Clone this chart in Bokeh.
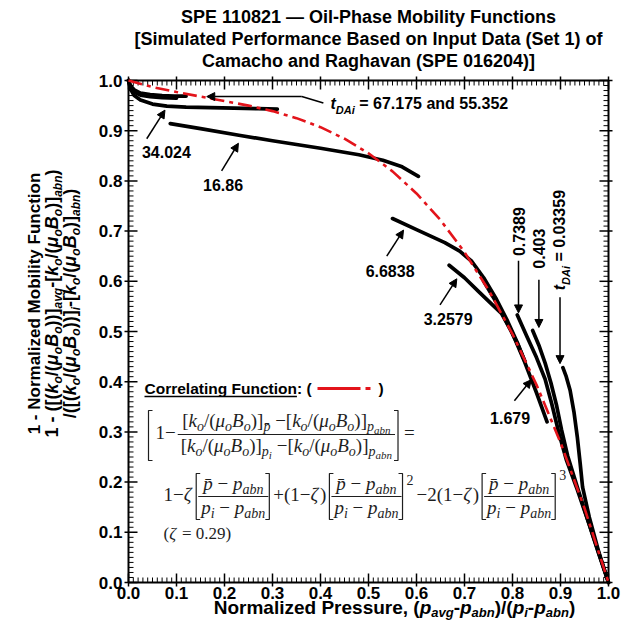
import math
from bokeh.plotting import figure
from bokeh.models import Label, Arrow, NormalHead, Range1d
from bokeh.core.properties import value
from bokeh.embed import file_html
from bokeh.resources import INLINE

# ---------------- data ----------------
tick_values = [0.0, 0.1, 0.2, 0.3, 0.4, 0.5, 0.6, 0.7, 0.8, 0.9, 1.0]
tick_labels = ["0.0", "0.1", "0.2", "0.3", "0.4", "0.5", "0.6", "0.7", "0.8", "0.9", "1.0"]

# correlating function, zeta = 0.29
corr_x = [0.0, 0.05, 0.10, 0.15, 0.20, 0.25, 0.30, 0.35, 0.40, 0.45, 0.50,
          0.55, 0.60, 0.65, 0.70, 0.75, 0.80, 0.85, 0.90, 0.95, 1.00]
corr_y = [1.000, 0.987, 0.977, 0.968, 0.959, 0.950, 0.939, 0.925, 0.907, 0.884, 0.855,
          0.819, 0.775, 0.722, 0.658, 0.583, 0.495, 0.394, 0.279, 0.148, 0.000]

# simulated oil-phase mobility curves, one per t_DAi
t67_x = [0.0, 0.004, 0.012, 0.025, 0.045, 0.07, 0.095, 0.12]
t67_y = [1.0, 0.990, 0.981, 0.975, 0.972, 0.970, 0.969, 0.969]
t55_x = [0.0, 0.004, 0.012, 0.025, 0.045, 0.07, 0.10]
t55_y = [1.0, 0.987, 0.977, 0.971, 0.968, 0.966, 0.965]
t34_x = [0.0, 0.004, 0.012, 0.025, 0.05, 0.08, 0.12, 0.17, 0.22, 0.27, 0.31]
t34_y = [1.0, 0.983, 0.970, 0.961, 0.953, 0.949, 0.947, 0.946, 0.945, 0.944, 0.943]
t16_x = [0.087, 0.15, 0.23, 0.30, 0.40, 0.48, 0.53, 0.57, 0.604]
t16_y = [0.914, 0.904, 0.891, 0.880, 0.865, 0.852, 0.841, 0.828, 0.809]
t6_x = [0.55, 0.60, 0.659, 0.69, 0.715, 0.74, 0.765, 0.79, 0.81, 0.826]
t6_y = [0.725, 0.703, 0.677, 0.660, 0.640, 0.607, 0.567, 0.520, 0.478, 0.440]
t3_x = [0.668, 0.70, 0.729, 0.755, 0.777, 0.795, 0.812, 0.826]
t3_y = [0.632, 0.607, 0.580, 0.556, 0.536, 0.505, 0.472, 0.440]
t1679_x = [0.74, 0.77, 0.80, 0.825, 0.85, 0.872]
t1679_y = [0.600, 0.552, 0.496, 0.440, 0.378, 0.320]
t0739_x = [0.81, 0.83, 0.85, 0.868, 0.882, 0.896, 0.912, 0.935, 0.96, 0.98, 1.0]
t0739_y = [0.533, 0.490, 0.448, 0.405, 0.355, 0.300, 0.245, 0.185, 0.115, 0.057, 0.0]
t0403_x = [0.842, 0.856, 0.868, 0.88, 0.892, 0.902, 0.915, 0.935, 0.96, 0.98, 1.0]
t0403_y = [0.502, 0.470, 0.437, 0.398, 0.352, 0.305, 0.252, 0.190, 0.115, 0.057, 0.0]
t0034_x = [0.905, 0.912, 0.92, 0.928, 0.935, 0.941, 0.946, 0.96, 0.98, 1.0]
t0034_y = [0.428, 0.410, 0.383, 0.340, 0.290, 0.237, 0.190, 0.130, 0.060, 0.0]

title_lines = ["SPE 110821 \u2014 Oil-Phase Mobility Functions",
               "[Simulated Performance Based on Input Data (Set 1) of",
               "Camacho and Raghavan (SPE 016204)]"]

# ---------------- canvas geometry ----------------
# the figure frame fills the whole canvas; the unit square is the plotting box
W, H = 632, 623
L, R, T, B = 128, 24, 80, 41
FW, FH = W - L - R, H - T - B


def dx(px):
    return (px - L) / FW


def dy(py):
    return (H - B - py) / FH


p = figure(width=W, height=H,
           x_range=Range1d(dx(0), dx(W)), y_range=Range1d(dy(H), dy(0)),
           output_backend="svg", toolbar_location=None, title=None,
           x_axis_type=None, y_axis_type=None,
           min_border_left=0, min_border_right=0, min_border_top=0, min_border_bottom=0)
p.grid.visible = False
p.outline_line_color = None
p.background_fill_color = "white"
p.border_fill_color = "white"

# ---------------- box, ticks and tick labels ----------------
minor = [round(i * 0.01, 2) for i in range(101) if i % 10]
maj_in, maj_out, min_in = 9, 4, 5

p.segment(x0=tick_values, x1=tick_values, y0=[-maj_out / FH] * 11, y1=[maj_in / FH] * 11,
          line_color="black", line_width=1.5)
p.segment(x0=tick_values, x1=tick_values, y0=[1 - maj_in / FH] * 11, y1=[1 + maj_out / FH] * 11,
          line_color="black", line_width=1.5)
p.segment(x0=[-maj_out / FW] * 11, x1=[maj_in / FW] * 11, y0=tick_values, y1=tick_values,
          line_color="black", line_width=1.5)
p.segment(x0=[1 - maj_in / FW] * 11, x1=[1 + maj_out / FW] * 11, y0=tick_values, y1=tick_values,
          line_color="black", line_width=1.5)
n = len(minor)
p.segment(x0=minor, x1=minor, y0=[0] * n, y1=[min_in / FH] * n, line_color="black", line_width=1)
p.segment(x0=minor, x1=minor, y0=[1 - min_in / FH] * n, y1=[1] * n, line_color="black", line_width=1)
p.segment(x0=[0] * n, x1=[min_in / FW] * n, y0=minor, y1=minor, line_color="black", line_width=1)
p.segment(x0=[1 - min_in / FW] * n, x1=[1] * n, y0=minor, y1=minor, line_color="black", line_width=1)
p.line([0, 1, 1, 0, 0], [0, 0, 1, 1, 0], line_color="black", line_width=2)

p.text(x=tick_values, y=[dy(592)] * 11, text=tick_labels, text_align="center",
       text_baseline="middle", text_font=value("Liberation Sans"), text_font_style="bold",
       text_font_size="17px", text_color="black")
p.text(x=[dx(122)] * 11, y=tick_values, text=tick_labels, text_align="right",
       text_baseline="middle", text_font=value("Liberation Sans"), text_font_style="bold",
       text_font_size="17px", text_color="black")

# ---------------- curves ----------------
for xs, ys in [(t67_x, t67_y), (t55_x, t55_y), (t34_x, t34_y), (t16_x, t16_y),
               (t6_x, t6_y), (t3_x, t3_y), (t1679_x, t1679_y), (t0739_x, t0739_y),
               (t0403_x, t0403_y), (t0034_x, t0034_y)]:
    p.line(xs, ys, line_color="black", line_width=3.7, line_cap="round", line_join="round")

RED = "#e3141b"
p.line(corr_x, corr_y, line_color=RED, line_width=2.6, line_dash="14 5 4 5")

# ---------------- rich text helpers ----------------
FAM = {"b": ("Liberation Sans", "bold"), "bi": ("Liberation Sans", "bold italic"),
       "r": ("Liberation Serif", "normal"), "i": ("Liberation Serif", "italic")}


def _tab(default, groups):
    t = {"_default": default, "\u0304": 0}
    for chars, w in groups:
        for c in chars:
            t[c] = w
    return t


SANS = _tab(556, [(" ,./ijlI", 278), ("()-[]:;!ft", 333), ("r", 389), ("z", 500),
                  ("+=", 584), ("bdghnopqu", 611), ("FLTZ\u03bc", 611), ("EPSVXY", 667),
                  ("ABCDHKNRU", 722), ("GOQw", 778), ("M", 833), ("m", 889), ("W", 944),
                  ("\u2014", 1000)])
SERIF_R = _tab(500, [(" .", 250), ("/", 278), ("()[]-", 333), ("\u03b6", 444), ("+=\u2212", 564)])
SERIF_I = _tab(500, [("i", 278), ("/", 278), ("()", 333), ("[]", 389), ("k", 444), ("B", 611)])
TABLES = {"b": SANS, "bi": SANS, "r": SERIF_R, "i": SERIF_I}
MID = 0.35  # distance from baseline to the em-box middle, in em


def text_width(s, kind, size):
    t = TABLES[kind]
    return sum(t.get(c, t["_default"]) for c in s) * size / 1000.0


def run(pieces, x, y, align="left", vertical=False, color="black"):
    """Lay out styled text runs from a pixel baseline anchor."""
    widths = [text_width(s, k, z) for s, k, z, sh in pieces]
    total = sum(widths)
    pos = -{"left": 0.0, "center": total / 2, "right": total}[align]
    for (s, k, z, sh), w in zip(pieces, widths):
        lead = len(s) - len(s.lstrip(" "))
        lead_w = text_width(" " * lead, k, z)
        txt = s.strip(" ")
        if txt:
            if vertical:
                px, py = x + sh - MID * z, y - (pos + lead_w)
            else:
                px, py = x + pos + lead_w, y + sh - MID * z
            fam, sty = FAM[k]
            p.add_layout(Label(x=dx(px), y=dy(py), text=txt, text_font=fam,
                               text_font_style=sty, text_font_size=f"{z}px",
                               text_color=color, text_align="left",
                               text_baseline="middle",
                               angle=math.pi / 2 if vertical else 0.0))
        pos += w
    return total


INK = "#1e1e1e"
strokes = []


def frac(num, den, x, bar_y, num_drop=7, den_drop=18, pad=3):
    wn = sum(text_width(s, k, z) for s, k, z, sh in num)
    wd = sum(text_width(s, k, z) for s, k, z, sh in den)
    w = max(wn, wd) + 2 * pad
    run(num, x + (w - wn) / 2, bar_y - num_drop, color=INK)
    run(den, x + (w - wd) / 2, bar_y + den_drop, color=INK)
    strokes.append(([x, x + w], [bar_y, bar_y]))
    return w


def bracket(x, top, bottom, left=True, serif=4):
    s = serif if left else -serif
    strokes.append(([x + s, x, x, x + s], [top, top, bottom, bottom]))


# ---------------- titles ----------------
for line, mid in zip(title_lines, [16, 38, 60]):
    p.add_layout(Label(x=dx(368), y=dy(mid), text=line, text_font="Liberation Sans",
                       text_font_style="bold", text_font_size="18px", text_color="black",
                       text_align="center", text_baseline="middle"))

SUB = 12
KO_Y = [("k", "bi", 18, 0), ("o", "bi", SUB, 4), ("/(", "b", 18, 0), ("\u03bc", "bi", 18, 0),
        ("o", "bi", SUB, 4), ("B", "bi", 18, 0), ("o", "bi", SUB, 4)]
ylab1 = [("1 - Normalized Mobility Function", "b", 17, 0)]
ylab2 = ([("1 - ([(", "b", 18, 0)] + KO_Y + [("))]", "b", 18, 0), ("avg", "bi", SUB, 4),
                                            ("-[", "b", 18, 0)] + KO_Y +
         [(")]", "b", 18, 0), ("abn", "bi", SUB, 4), (")", "b", 18, 0)])
ylab3 = ([("/([(", "b", 18, 0)] + KO_Y + [("))]", "b", 18, 0), ("i", "bi", SUB, 4),
                                          ("-[", "b", 18, 0)] + KO_Y +
         [(")]", "b", 18, 0), ("abn", "bi", SUB, 4), (")", "b", 18, 0)])
run(ylab1, 40, 303, align="center", vertical=True)
run(ylab2, 58, 303, align="center", vertical=True)
run(ylab3, 76, 303, align="center", vertical=True)

xlab = [("Normalized Pressure, (", "b", 19, 0), ("p", "bi", 19, 0), ("avg", "bi", 13, 3),
        ("-", "b", 19, 0), ("p", "bi", 19, 0), ("abn", "bi", 13, 3), (")/(", "b", 19, 0),
        ("p", "bi", 19, 0), ("i", "bi", 13, 3), ("-", "b", 19, 0), ("p", "bi", 19, 0),
        ("abn", "bi", 13, 3), (")", "b", 19, 0)]
run(xlab, 394, 614, align="center")


# ---------------- curve annotations ----------------
def tag(text, x, y, vertical=False):
    p.add_layout(Label(x=x, y=y, text=text, text_font="Liberation Sans",
                       text_font_style="bold", text_font_size="16px", text_color="black",
                       text_align="center", text_baseline="middle",
                       angle=math.pi / 2 if vertical else 0.0))


def arrow(x0, y0, x1, y1):
    p.add_layout(Arrow(end=NormalHead(size=8, fill_color="black", line_color="black",
                                      line_width=1),
                       x_start=x0, y_start=y0, x_end=x1, y_end=y1,
                       line_color="black", line_width=1.5))


tag("34.024", 0.079, 0.858)
arrow(0.038, 0.884, 0.076, 0.941)
tag("16.86", 0.197, 0.792)
arrow(0.194, 0.820, 0.229, 0.875)
tag("6.6838", 0.545, 0.620)
arrow(0.538, 0.650, 0.573, 0.702)
tag("3.2579", 0.666, 0.525)
arrow(0.649, 0.553, 0.684, 0.605)
tag("1.679", 0.795, 0.328)
arrow(0.804, 0.362, 0.839, 0.404)

tag("0.7389", 0.814, 0.699, vertical=True)
arrow(0.8125, 0.641, 0.8125, 0.537)
tag("0.403", 0.856, 0.665, vertical=True)
arrow(0.855, 0.603, 0.855, 0.508)
run([("t", "bi", 16, 0), ("DAi", "bi", 11, 4), (" = 0.03359", "b", 16, 0)],
    L + 0.898 * FW + 6, H - B - 0.682 * FH, align="center", vertical=True)
arrow(0.899, 0.568, 0.899, 0.436)

run([("t", "bi", 16, 0), ("DAi", "bi", 11, 4), (" = 67.175 and 55.352", "b", 16, 0)], 330, 109)
arrow(0.361, 0.968, 0.163, 0.968)
p.line([0.361, 0.406], [0.968, 0.955], line_color="black", line_width=1.5)

# ---------------- correlating function box ----------------
w_cf = run([("Correlating Function", "b", 15.5, 0)], 144, 393)
run([(": (", "b", 15.5, 0)], 144 + w_cf, 393)
run([(")", "b", 15.5, 0)], 378, 393)
p.segment(x0=[dx(144)], y0=[dy(396)], x1=[dx(144 + w_cf)], y1=[dy(396)],
          line_color="black", line_width=1.3)
p.segment(x0=[dx(317), dx(365)], y0=[dy(388), dy(388)], x1=[dx(360), dx(370)],
          y1=[dy(388), dy(388)], line_color=RED, line_width=3)

FS, FSUB, FSS = 19, 14, 11
KO = [("[", "r", FS, 0), ("k", "i", FS, 0), ("o", "i", FSUB, 4), ("/(", "r", FS, 0),
      ("\u03bc", "i", FS, 0), ("o", "i", FSUB, 4), ("B", "i", FS, 0), ("o", "i", FSUB, 4),
      (")]", "r", FS, 0)]
num1 = KO + [("p\u0304", "i", FSUB, 4), (" \u2212", "r", FS, 0)] + KO + \
    [("p", "i", FSUB, 4), ("abn", "i", FSS, 6)]
den1 = KO + [("p", "i", FSUB, 4), ("i", "i", FSS, 6), (" \u2212", "r", FS, 0)] + KO + \
    [("p", "i", FSUB, 4), ("abn", "i", FSS, 6)]

bar1 = 434
bracket(148, 410, 460, left=True)
cx = 155
cx += run([("1\u2212", "r", FS, 0)], cx, bar1 + 5, color=INK) + 2
cx += frac(num1, den1, cx, bar1) + 3
bracket(cx, 410, 460, left=False)
run([("=", "r", FS, 0)], cx + 6, bar1 + 5, color=INK)

pn = [("p\u0304", "i", FS, 0), (" \u2212 ", "r", FS, 0), ("p", "i", FS, 0), ("abn", "i", FSUB, 4)]
pd = [("p", "i", FS, 0), ("i", "i", FSUB, 4), (" \u2212 ", "r", FS, 0), ("p", "i", FS, 0),
      ("abn", "i", FSUB, 4)]
bar2, top2, bot2 = 496, 473, 519


def bracketed(cx):
    bracket(cx, top2, bot2, left=True)
    cx += 2
    cx += frac(pn, pd, cx, bar2, num_drop=6, den_drop=18)
    bracket(cx + 1, top2, bot2, left=False)
    return cx + 3


cx = 163
cx += run([("1\u2212", "r", FS, 0), ("\u03b6", "i", FS, 0)], cx, bar2 + 5, color=INK) + 3
cx = bracketed(cx) + 2
cx += run([("+(1\u2212", "r", FS, 0), ("\u03b6", "i", FS, 0), (")", "r", FS, 0)],
          cx, bar2 + 5, color=INK) + 3
cx = bracketed(cx)
run([("2", "r", FSUB, 0)], cx + 2, 484, color=INK)
cx += 12
cx += run([("\u22122(1\u2212", "r", FS, 0), ("\u03b6", "i", FS, 0), (")", "r", FS, 0)],
          cx, bar2 + 5, color=INK) + 3
cx = bracketed(cx)
run([("3", "r", FSUB, 0)], cx + 2, 479, color=INK)

run([("(", "r", 17, 0), ("\u03b6", "i", 17, 0), (" = 0.29)", "r", 17, 0)], 163, 539, color=INK)

p.multi_line(xs=[[dx(v) for v in xs] for xs, ys in strokes],
             ys=[[dy(v) for v in ys] for xs, ys in strokes],
             line_color=INK, line_width=1.2)

open("out.html", "w").write(file_html(p, INLINE))
